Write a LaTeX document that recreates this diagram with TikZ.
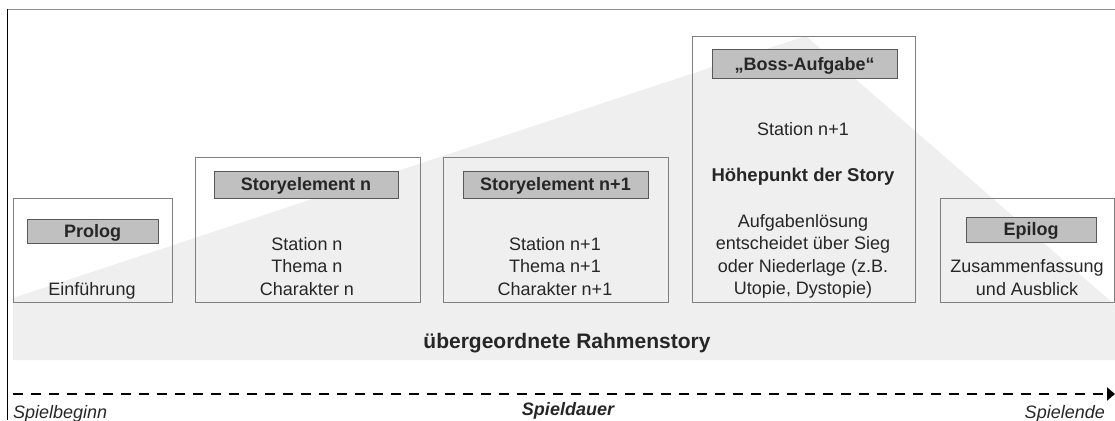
\documentclass[tikz,border=0pt]{standalone}
\usepackage{fontspec}
\setmainfont{Liberation Sans}
\usetikzlibrary{arrows.meta}
\definecolor{ink}{HTML}{262626}
\definecolor{boxgrey}{HTML}{7F7F7F}
\definecolor{bargrey}{HTML}{C0C0C0}
\definecolor{bardark}{HTML}{595959}
\definecolor{bandgrey}{HTML}{EFEFEF}
\definecolor{framegrey}{HTML}{909090}
\tikzstyle{panel}=[draw=boxgrey, line width=1.2pt, inner sep=0pt, anchor=north west]
\tikzstyle{titlebar}=[draw=bardark, fill=bargrey, line width=1pt, inner sep=0pt, text=ink, font=\fontsize{18}{22.5}\selectfont\bfseries, text height=12.9pt, text depth=0pt]
\tikzstyle{body}=[inner sep=0pt, align=center, anchor=base, text=ink, font=\fontsize{18}{22.5}\selectfont]
\tikzstyle{timeline}=[draw=black, line width=2.6pt, dash pattern=on 10pt off 8pt, -{Triangle[length=8pt,width=13pt]}]

\begin{document}
\begin{tikzpicture}[x=1pt, y=-1pt]
\useasboundingbox (0,0) rectangle (1115,420);
% Frame and tension curve
    \fill[bandgrey] (13,360) -- (13,298) -- (806,36) -- (1115,305) -- (1115,360) -- cycle;
    \draw[framegrey, line width=1.5pt] (7,9.5) -- (1115,9.5);
    \draw[black, line width=1pt] (7,9) -- (7,420);

% Boxes
    \node[panel, minimum width=159pt, minimum height=104pt] (prolog) at (13,198) {};
    \node[panel, minimum width=225pt, minimum height=145pt] (storyn) at (195,157) {};
    \node[panel, minimum width=225pt, minimum height=145pt] (storynext) at (443,157) {};
    \node[panel, minimum width=223pt, minimum height=266pt] (boss) at (692,36) {};
    \node[panel, minimum width=174pt, minimum height=104pt] (epilog) at (940,198) {};

% Title bars
    \node[titlebar, minimum width=131pt, minimum height=24pt] (prologbar) at (92.5,231) {Prolog};
    \node[titlebar, minimum width=184pt, minimum height=27pt] (storynbar) at (306,184.5) {Storyelement n};
    \node[titlebar, minimum width=185pt, minimum height=27pt] (storynextbar) at (555.5,184.5) {Storyelement n+1};
    \node[titlebar, minimum width=185pt, minimum height=28pt] (bossbar) at (804.5,64) {„Boss-Aufgabe“};
    \node[titlebar, minimum width=130pt, minimum height=25pt] (epilogbar) at (1031,229.5) {Epilog};

% Texts (base = last line)
    \node[body] (prologtext) at (92,295) {Einführung};
    \node[body] (storyntext) at (307,295) {Station n\\Thema n\\Charakter n};
    \node[body] (storynexttext) at (555,295) {Station n+1\\Thema n+1\\Charakter n+1};
    \node[body] (bossstation) at (803,135) {Station n+1};
    \node[body, font=\fontsize{18.5}{22.5}\selectfont\bfseries] (bosspeak) at (803,181) {Höhepunkt der Story};
    \node[body] (bosstext) at (803,294.5) {Aufgabenlösung\\entscheidet über Sieg\\oder Niederlage (z.B.\\Utopie, Dystopie)};
    \node[body] (epilogtext) at (1027,295) {Zusammenfassung\\und Ausblick};
    \node[body, font=\fontsize{21}{25}\selectfont\bfseries] (frame) at (567,348) {übergeordnete Rahmenstory};

% Time axis
    \coordinate (start) at (13,394);
    \coordinate (finish) at (1115,394);
    \draw[timeline] (start) -- (finish);
    \node[body, anchor=base west, font=\fontsize{18}{22.5}\selectfont\itshape] (begin) at (13,418) {Spielbeginn};
    \node[body, font=\fontsize{18}{22.5}\selectfont\bfseries\itshape] (duration) at (568,415) {Spieldauer};
    \node[body, anchor=base east, font=\fontsize{18}{22.5}\selectfont\itshape] (end) at (1105,418) {Spielende};

\end{tikzpicture}
\end{document}
